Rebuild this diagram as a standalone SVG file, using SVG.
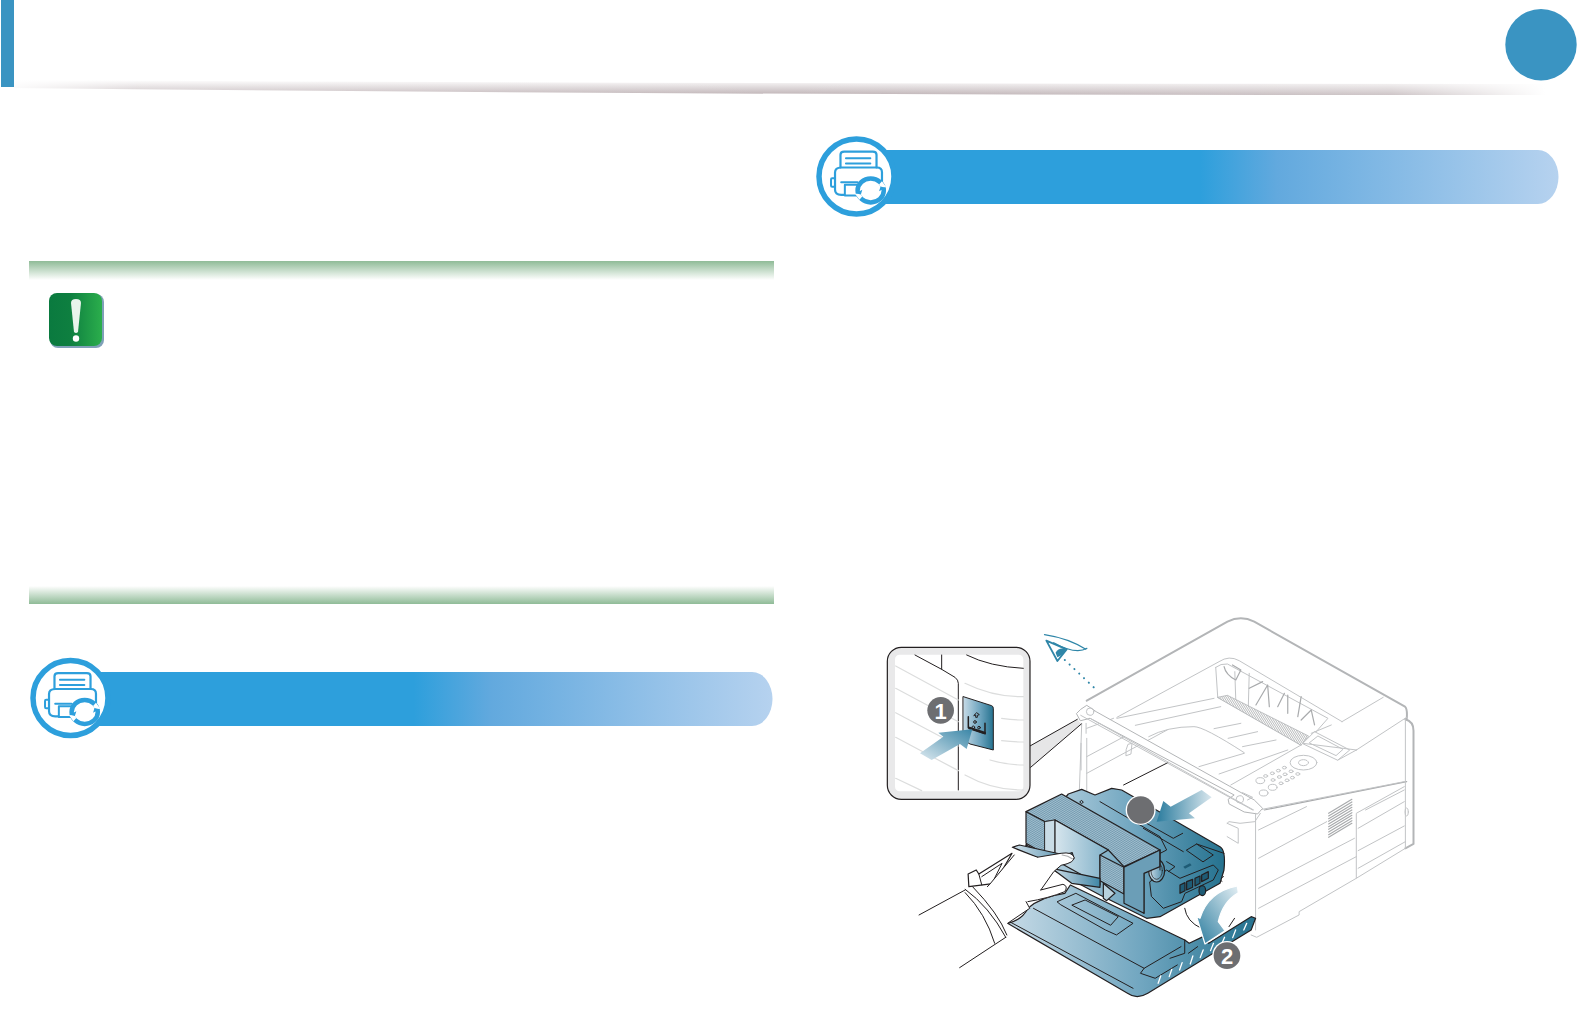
<svg xmlns="http://www.w3.org/2000/svg" xmlns:xlink="http://www.w3.org/1999/xlink" width="1577" height="1024" viewBox="0 0 1577 1024">
<style>
.art *{vector-effect:non-scaling-stroke;stroke-linejoin:round;stroke-linecap:round}
.g{fill:none;stroke:#c2c4c6;stroke-width:1}
.gh{fill:none;stroke:#b3b5b7;stroke-width:2}
.gm{fill:none;stroke:#a9abad;stroke-width:1.2}
.wf{fill:#fff;stroke:#b3b5b7;stroke-width:1}
.k{fill:none;stroke:#231f20;stroke-width:1}
.kf{stroke:#231f20;stroke-width:1.2}
.w{fill:none;stroke:#fff;stroke-width:1.3}
.num{font-family:"Liberation Sans",Arial,sans-serif;font-weight:700;font-size:22px;fill:#fff;text-anchor:middle}
.badge{fill:#6d6e71}
</style>
<defs>
<linearGradient id="ban" x1="0" x2="1" y1="0" y2="0"><stop offset="0" stop-color="#2d9fdc"/><stop offset=".49" stop-color="#2d9fdc"/><stop offset=".6" stop-color="#62a9de"/><stop offset="1" stop-color="#b6d2ef"/></linearGradient>
<linearGradient id="bandT" x1="0" x2="0" y1="0" y2="1"><stop offset="0" stop-color="#8fbb97"/><stop offset="1" stop-color="#fff"/></linearGradient>
<linearGradient id="bandB" x1="0" x2="0" y1="0" y2="1"><stop offset="0" stop-color="#fff"/><stop offset="1" stop-color="#8fbb97"/></linearGradient>
<linearGradient id="grn" x1="0" x2="1" y1="0" y2="0"><stop offset="0" stop-color="#0a7a3f"/><stop offset=".4" stop-color="#0e7f40"/><stop offset="1" stop-color="#2bae4c"/></linearGradient>
<linearGradient id="sh" x1="0" x2="0" y1="0" y2="1"><stop offset="0" stop-color="#fff"/><stop offset="1" stop-color="#bdb1b4"/></linearGradient>
<linearGradient id="shf" x1="0" x2="1" y1="0" y2="0"><stop offset="0" stop-color="#fff" stop-opacity=".9"/><stop offset=".08" stop-color="#fff" stop-opacity=".2"/><stop offset=".5" stop-color="#fff" stop-opacity="0"/><stop offset=".9" stop-color="#fff" stop-opacity=".25"/><stop offset="1" stop-color="#fff" stop-opacity="1"/></linearGradient>
<linearGradient id="teal" x1="0" x2="1" y1="0" y2="0"><stop offset="0" stop-color="#c6dae6"/><stop offset=".55" stop-color="#6fa5bf"/><stop offset="1" stop-color="#25728f"/></linearGradient>
<linearGradient id="tealD" x1="0" x2="1" y1="0" y2="0"><stop offset="0" stop-color="#cfe0ea"/><stop offset=".6" stop-color="#7daac1"/><stop offset="1" stop-color="#3f87a6"/></linearGradient>
<linearGradient id="tealL" x1="0" x2="1" y1="0" y2="0"><stop offset="0" stop-color="#d6e5ed"/><stop offset="1" stop-color="#7fb0c8"/></linearGradient>
<linearGradient id="arR" x1="1" x2="0" y1="0" y2="0"><stop offset="0" stop-color="#d9e7ee"/><stop offset="1" stop-color="#2b7c9e"/></linearGradient>
<linearGradient id="arL" x1="0" x2="1" y1="1" y2="0"><stop offset="0" stop-color="#dbe8ef"/><stop offset="1" stop-color="#3a86a7"/></linearGradient>
<linearGradient id="arC" x1="1" x2="0" y1="0" y2="1"><stop offset="0" stop-color="#e4eff4"/><stop offset="1" stop-color="#2b7c9e"/></linearGradient>
<pattern id="st" width="5" height="5" patternUnits="userSpaceOnUse" patternTransform="rotate(30)"><rect width="5" height="5" fill="#a3bfce"/><rect y="0" width="5" height="1.800" fill="#5f8ca4"/></pattern>
<pattern id="st2" width="5" height="7" patternUnits="userSpaceOnUse" patternTransform="rotate(30)"><rect width="5" height="7" fill="#fff"/><rect x="0" width="1.500" height="7" fill="#8d8f91"/></pattern>
<g id="icon">
<circle r="37.500" fill="#fff" stroke="#2d9fdc" stroke-width="5.500"/>
<g transform="scale(.364,.333) translate(-162,-155)" fill="none" stroke="#2d9fdc" class="art">
<path d="M118,128V90q0-10 10-10h79q10,0 10,10v38" stroke-width="2.200"/>
<path d="M133,100h67M133,116h67" stroke-width="2"/>
<path d="M120,128h98q14,0 14,14v28M165,210h-45M120,210q-17,0-17-15v-52q0-15 17-15" stroke-width="2.200"/>
<path d="M103,160h-8q-3,0-3,4v18q0,4 3,4h8" stroke-width="2"/>
<path d="M120,172h45" stroke-width="2"/>
<rect x="130" y="180" width="36" height="32" fill="#fff" stroke-width="2"/>
<circle cx="201" cy="197" r="36" stroke-width="4.500" fill="#fff"/>
<path d="M158,207l14-2l6,10l-8,10zM244,187l-14,2l-6-10l8-10z" fill="#fff" stroke="none"/>
<path d="M160,205l14,4l4-14zM242,189l-14-4l-4,14z" fill="#2d9fdc" stroke="none"/>
</g>
</g>
</defs>
<rect width="1577" height="1024" fill="#fff"/>

<g id="header">
<rect x="1" y="0" width="13" height="87" fill="#3a94c2"/>
<path d="M14,80Q800,84 1545,84V95Q800,96 14,88Z" fill="url(#sh)"/>
<path d="M14,76H1545V97H14Z" fill="url(#shf)"/>
<circle cx="1541" cy="44.700" r="35.700" fill="#3a94c2"/>
</g>

<g id="note">
<rect x="29" y="261" width="745" height="19" fill="url(#bandT)"/>
<rect x="29" y="586" width="745" height="18" fill="url(#bandB)"/>
<rect x="50" y="294" width="54" height="54" rx="8" fill="#7fa0b8"/>
<rect x="49" y="293" width="53" height="53" rx="8" fill="url(#grn)"/>
<path d="M71,303q0-4 5-4t5,4l-3,29q-2,2-4,0z" fill="#e9f4ec"/>
<circle cx="76" cy="338.500" r="3.200" fill="#fff"/>
</g>

<g id="banner-left">
<path d="M69,672H752a20.500,27 0 0 1 0,54H69Z" fill="url(#ban)"/>
<use xlink:href="#icon" href="#icon" x="70.500" y="698"/>
</g>
<g id="banner-right">
<path d="M855,150H1538a20.500,27 0 0 1 0,54H855Z" fill="url(#ban)"/>
<use xlink:href="#icon" href="#icon" x="856.500" y="176.500"/>
</g>

<g id="printer" class="art">
<g transform="translate(1070,610) scale(.335,.3333)">
<path class="gh" d="M50,272L470,35Q510,15 550,35L1000,290Q1008,298 1005,328"/>
<path class="g" d="M140,322L445,155Q475,135 505,152L812,335M812,335L935,262M1005,322L855,420"/>
<path class="g" d="M435,172Q450,160 470,162L770,325L735,365M435,172L441,262L690,405M492,185L495,275M535,190L532,300M780,345L720,370"/>
<path d="M441,262L470,256L712,378L690,405Z" fill="url(#st2)" stroke="#b3b5b7" stroke-width=".8"/>
<path class="gm" d="M460,170Q465,195 495,210L510,180L485,165M535,235L575,215M555,285L590,225L595,290M620,290L640,250M690,330L720,300L730,345M680,320L690,260M650,310L650,255"/>
<path class="g" d="M140,325L430,265M195,346L450,290M235,380Q290,350 370,350Q400,350 520,428M385,470L520,430M445,492L650,420M430,356L510,340M472,385L560,365M515,410L615,390M480,525L690,405"/>
<path class="g" d="M695,400L730,365L835,420L800,450ZM715,398L740,378L815,418L795,436ZM695,400L855,420M800,450L855,420"/>
<ellipse class="g" cx="697" cy="458" rx="40" ry="22"/><ellipse class="g" cx="697" cy="458" rx="15" ry="9"/>
<g class="g"><ellipse cx="568" cy="512" rx="13" ry="9"/><ellipse cx="605" cy="532" rx="13" ry="9"/><ellipse cx="578" cy="549" rx="13" ry="9"/>
<ellipse cx="584" cy="498" rx="6" ry="4"/><ellipse cx="604" cy="490" rx="6" ry="4"/><ellipse cx="622" cy="482" rx="6" ry="4"/><ellipse cx="640" cy="473" rx="6" ry="4"/>
<ellipse cx="606" cy="510" rx="6" ry="4"/><ellipse cx="625" cy="501" rx="6" ry="4"/><ellipse cx="642" cy="493" rx="6" ry="4"/><ellipse cx="660" cy="484" rx="6" ry="4"/>
<ellipse cx="630" cy="520" rx="6" ry="4"/><ellipse cx="648" cy="511" rx="6" ry="4"/><ellipse cx="664" cy="503" rx="6" ry="4"/><ellipse cx="680" cy="492" rx="6" ry="4"/></g>
<path class="gm" d="M580,600L1005,515"/>
<path class="g" d="M50,355L130,325M50,440L180,370M50,490L290,360M50,385V550M35,340L28,540M48,340L48,370M33,400L33,480"/>
<path class="g" d="M168,418l5-15l12-3l-3,32l-14,5z"/>
<path class="k" d="M160,525L292,458"/>
<path class="wf" d="M20,310L32,298L50,286L78,305L550,570L575,595L560,612L520,606L475,582L472,568L490,555L60,325L32,332Z"/>
<path class="g" d="M32,316L545,600M60,325L548,600"/>
<circle class="g" cx="60" cy="305" r="11"/><circle class="g" cx="507" cy="568" r="11"/>
<path class="g" d="M515,548L545,562L530,570"/>
<ellipse class="g" cx="1005" cy="606" rx="5" ry="12"/>
</g>

<g transform="translate(860,600) scale(.369,.3333)">
<path class="gh" d="M1478,358Q1500,365 1500,392V732L1478,745"/>
<path class="g" d="M1478,358V745L1345,835V640L1475,560M1475,545L1090,628M1345,835L1190,935V945L1075,1012L1060,1005"/>
<path class="g" d="M1072,640V990M995,670L1025,685L1025,730L995,710M995,670L1000,665L1030,670L1070,665L1085,640"/>
<path class="g" d="M1080,690L1210,620M1080,775L1265,665M1080,865L1340,715M1080,925L1345,770M1350,685L1475,605M1350,752L1475,678M1350,805L1478,725M1370,630L1475,570"/>
<path class="gm" d="M1270,640L1333,598M1270,648L1333,606M1270,656L1333,614M1270,664L1333,622M1270,672L1333,630M1270,680L1333,638M1270,688L1333,646M1270,696L1333,654M1270,704L1333,662M1270,712L1333,670"/>
<path class="k" d="M880,925Q885,965 925,985"/>
<path class="k" d="M985,830l-12,8l8,6M975,822l8-2"/>
</g>

<g transform="translate(860,600) scale(.369,.3333)">
<path d="M400,970Q440,960 455,925Q490,890 555,880L570,855L880,1020L892,1030L930,1010L945,1030L1060,950L1072,955L1060,990L780,1180Q750,1200 725,1180Z" fill="url(#teal)" class="kf"/>
<path class="k" d="M535,905L585,880L740,970L695,1005L665,990L545,915ZM575,915L610,900L700,950L680,975ZM410,968L740,1165M470,925L770,1105L870,1040M770,1105L760,1120L800,1135L860,1095M880,1020L880,1060L840,1075"/>
<path class="w" d="M808,1150L815,1128M838,1130L845,1108M866,1110L873,1088M895,1092L902,1068M922,1073L930,1050M950,1052L958,1030M980,1032L988,1012M1010,1013L1018,990M1040,990L1048,970"/>
<path class="k" d="M890,1060L915,1040M1000,980L1015,955"/>
</g>

<g transform="translate(1000,770) scale(.3333)">
<path class="kf" fill="url(#teal)" d="M205,72L245,58L285,75L335,55L365,60L660,230Q678,240 672,300L660,340L480,440L440,445L300,375L160,300L78,225Z"/>
<path class="k" d="M300,95L480,200L500,240L432,275M430,175L550,245M440,160L520,205L548,190M560,240L590,222L640,255L610,275ZM590,222L672,250M500,275L525,290L505,305M432,430L432,275M450,335L500,300L540,325L640,285L655,300L640,330L555,370L545,395L490,415L455,380Z"/>
<ellipse cx="470" cy="302" rx="24" ry="34" fill="url(#tealD)" class="kf"/>
<ellipse cx="470" cy="302" rx="17" ry="26" fill="none" stroke="#231f20" stroke-width=".7"/>
<path class="kf" fill="#1e5b75" d="M540,345L555,338V362L540,370ZM560,335L578,328V352L560,360ZM585,325L600,318V340L585,348ZM605,315L625,305V325L605,335Z"/>
<ellipse cx="607" cy="362" rx="10" ry="15" fill="#1e5b75" class="kf"/>
<path d="M550,290l20-10l5,6l-20,10z" fill="#1e5b75"/>
<path d="M78,125L185,72L480,240L372,290L325,240L165,150L135,155Z" fill="url(#st)" class="kf"/>
<path d="M78,125L135,155V252L78,220Z" fill="url(#st)" class="kf"/>
<path d="M135,155L165,150V270L135,252Z" fill="#c9dce6" stroke="#231f20" stroke-width=".7"/>
<path d="M165,150L325,240L300,255V345L165,270Z" fill="url(#tealL)" class="kf"/>
<path d="M300,255L372,292V372L300,332Z" fill="url(#st)" class="kf"/>
<path d="M372,292L480,240V290L432,310V430L372,400Z" fill="#6b9eb7" class="kf"/>
<path d="M78,225L135,252V275L78,240Z" fill="#a8c6d5" class="kf"/>
<path class="k" d="M480,240L480,300M240,95l5-4l5,6l-5,3z"/>
<path d="M155,295L300,325V352L215,340Z" fill="url(#tealD)" class="kf"/>
<path d="M310,340L345,370L320,392L310,385Z" fill="#b8d1dd" class="kf"/>
</g>

<g transform="translate(860,600) scale(.369,.3333)">
<path class="kf" fill="#fff" d="M293,822L315,810L322,822L412,760L365,850L295,860Z"/>
<path class="k" d="M330,830L385,790L360,845M322,822L330,855"/>
<path class="kf" fill="url(#tealD)" d="M413,742L432,735L555,765L575,758L580,775L560,790L500,780Z"/>
<path fill="#fff" d="M160,945L285,870L345,860L420,762L480,772L545,760Q575,755 580,772Q582,788 545,796L525,815L490,870L550,853Q565,858 555,875Q510,895 455,905L460,925L400,970L395,1012L270,1103Z"/>
<path class="k" d="M160,945L285,870M345,860L350,855L418,765M270,1103L395,1012M400,970L460,925L450,905M285,868Q350,920 395,1012M305,860Q375,940 398,1005M285,878Q340,940 365,1030M490,870L525,815L545,796Q582,788 580,772Q575,755 545,760L480,772M490,870L550,853Q565,858 555,875Q510,895 455,905"/>
<path class="gm" d="M548,765q16,2 28,12"/>
</g>

<g transform="translate(1000,770) scale(.3333)">
<path d="M712,348Q625,365 600,445L590,440L615,522L675,482L655,455Q668,395 715,368Z" fill="url(#arC)" stroke="#fff" stroke-width="1.200"/>
<path d="M605,60L635,82L567,130L585,145L470,155L490,93L512,110Z" fill="url(#arR)"/>
<circle cx="422" cy="120" r="45" fill="#fff"/>
<circle cx="422" cy="120" r="41" class="badge"/>
<circle cx="681" cy="557" r="44" fill="#fff"/>
<circle cx="681" cy="557" r="40" class="badge"/>
</g>

<g transform="translate(860,600) scale(.369,.3333)">
<path d="M505,122L560,148L535,183Z" fill="#fff" stroke="#2f86a8" stroke-width="1.800"/>
<path d="M530,158Q540,140 558,148Q553,165 535,172Z" fill="#2f86a8"/>
<path d="M500,104Q565,115 612,148M525,128Q585,165 615,145" fill="none" stroke="#2f86a8" stroke-width="1.200"/>
<path d="M555,180L646,275" fill="none" stroke="#2f86a8" stroke-width="2" stroke-dasharray="0.100 6.500"/>
</g>
</g>

<g id="inset" class="art">
<g transform="translate(880,640) scale(.3333)">
<path d="M450,318L592,238L604,252L452,382Z" fill="#e6e6e7"/>
<path class="k" d="M450,318L592,238M452,382L604,252"/>
<rect x="22" y="22" width="428" height="456" rx="42" fill="#e9e9ea" stroke="#231f20" stroke-width="1.200"/>
<rect x="45" y="44" width="385" height="410" rx="14" fill="#fff"/>
<path class="k" d="M105,45L185,88L225,112Q235,120 235,130V450M185,45V88M260,45Q330,80 430,85"/>
<path fill="none" stroke="#dcdddd" stroke-width="1.200" d="M47,78L235,180M47,145L235,245M47,218L235,318M47,292L235,392M47,415L125,452M255,130Q340,172 430,170M365,235Q400,240 430,240M365,302Q400,306 430,306M330,360Q380,375 430,375M255,405Q340,452 430,450"/>
<path d="M250,170L335,197Q340,199 340,205V330L270,312L250,300Z" fill="url(#teal)" stroke="#231f20"/>
<path class="k" d="M265,230V263L315,281V250" style="stroke-width:1.500"/>
<path class="k" d="M268,264L314,279" style="stroke-width:2.500"/>
<circle class="k" cx="285" cy="246" r="4"/><circle class="k" cx="280" cy="262" r="4"/><circle class="k" cx="297" cy="263" r="4"/>
<path class="k" d="M282,226l8-8l8,6l-6,2v6h-5v-6z"/>
<path d="M120,340L190,290L175,278L277,268L260,327L240,312L155,360Z" fill="url(#arL)"/>
<circle cx="182" cy="211" r="40" class="badge"/>
</g>
<text class="num" x="940.700" y="718.500">1</text>
</g>
<text id="badge2" class="num" x="1227" y="963.500">2</text>
</svg>
